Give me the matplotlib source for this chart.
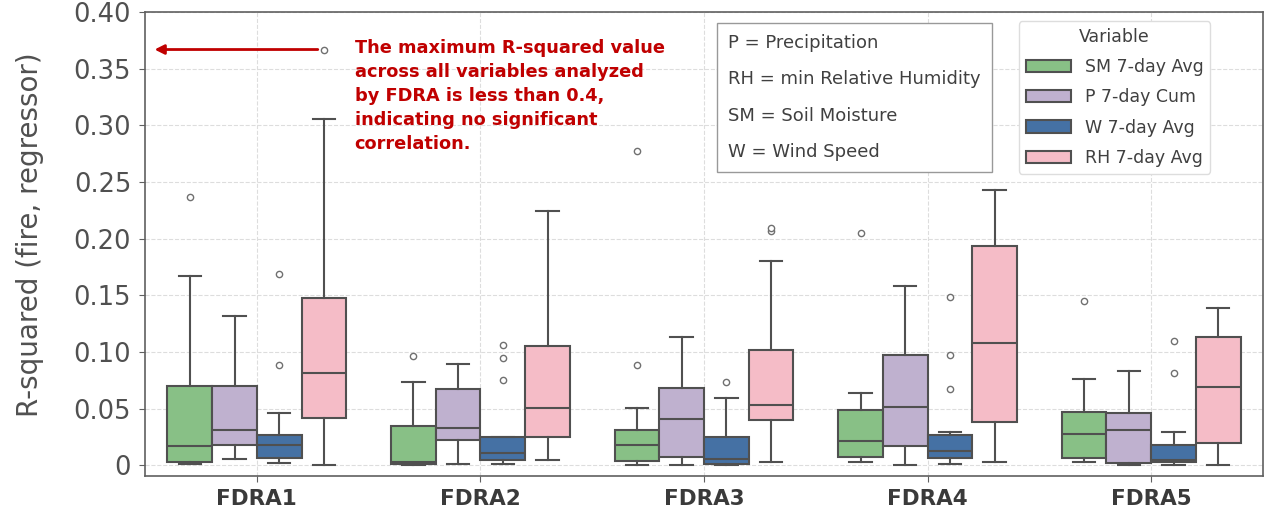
import matplotlib.pyplot as plt
from matplotlib.patches import Patch

# R-squared boxplots per FDRA and variable
fdras = ["FDRA1", "FDRA2", "FDRA3", "FDRA4", "FDRA5"]
variables = ["SM 7-day Avg", "P 7-day Cum", "W 7-day Avg", "RH 7-day Avg"]
colors = ["#88C086", "#BFB1CF", "#4571A4", "#F5BCC7"]

# whisker low, q1, median, q3, whisker high for each FDRA
sm_low = [0.0006, 0.0, 0.0003, 0.003, 0.003]
sm_q1 = [0.0026, 0.001, 0.0038, 0.007, 0.0062]
sm_med = [0.0167, 0.003, 0.0176, 0.0211, 0.0276]
sm_q3 = [0.0698, 0.0346, 0.0314, 0.049, 0.047]
sm_high = [0.167, 0.0733, 0.0505, 0.0637, 0.0757]
sm_out = [[0.2365], [0.096], [0.0883, 0.277], [0.2045], [0.145]]

p_low = [0.005, 0.0012, 0.0, 0.0, 0.0]
p_q1 = [0.0179, 0.0226, 0.0073, 0.0173, 0.0018]
p_med = [0.0314, 0.0329, 0.0405, 0.0517, 0.0308]
p_q3 = [0.0698, 0.0669, 0.0684, 0.0968, 0.0458]
p_high = [0.132, 0.0895, 0.113, 0.158, 0.0827]
p_out = [[], [], [], [], []]

w_low = [0.0015, 0.0006, 0.0, 0.0012, 0.0]
w_q1 = [0.0064, 0.0044, 0.001, 0.0064, 0.0024]
w_med = [0.0176, 0.0108, 0.005, 0.0129, 0.0044]
w_q3 = [0.027, 0.0249, 0.0246, 0.0264, 0.0179]
w_high = [0.046, 0.0249, 0.0593, 0.0293, 0.029]
w_out = [[0.169, 0.0886], [0.1062, 0.0948, 0.0754], [0.073],
         [0.148, 0.097, 0.0672], [0.110, 0.081]]

rh_low = [0.0, 0.0044, 0.0024, 0.0024, 0.0]
rh_q1 = [0.042, 0.0246, 0.0396, 0.0379, 0.0194]
rh_med = [0.0816, 0.0502, 0.0534, 0.1074, 0.0687]
rh_q3 = [0.1479, 0.1048, 0.1015, 0.193, 0.113]
rh_high = [0.3057, 0.2239, 0.180, 0.2424, 0.1388]
rh_out = [[0.3668], [], [0.2065, 0.209], [], []]

series = [
    (sm_low, sm_q1, sm_med, sm_q3, sm_high, sm_out),
    (p_low, p_q1, p_med, p_q3, p_high, p_out),
    (w_low, w_q1, w_med, w_q3, w_high, w_out),
    (rh_low, rh_q1, rh_med, rh_q3, rh_high, rh_out),
]

edge = "#505050"
fig = plt.figure(figsize=(12.67, 5.17), dpi=100)
ax = fig.add_axes([0.1145, 0.079, 0.8823, 0.898])

width = 0.2
offsets = [-0.3, -0.1, 0.1, 0.3]
for k, (lo, q1, med, q3, hi, out) in enumerate(series):
    stats = []
    for i in range(len(fdras)):
        stats.append(dict(whislo=lo[i], q1=q1[i], med=med[i], q3=q3[i],
                          whishi=hi[i], fliers=out[i]))
    pos = [i + offsets[k] for i in range(len(fdras))]
    ax.bxp(stats, positions=pos, widths=width, patch_artist=True,
           showfliers=True, manage_ticks=False,
           boxprops=dict(facecolor=colors[k], edgecolor=edge, linewidth=1.5),
           medianprops=dict(color=edge, linewidth=1.5),
           whiskerprops=dict(color=edge, linewidth=1.5),
           capprops=dict(color=edge, linewidth=1.5),
           flierprops=dict(marker="o", markersize=4.5, markerfacecolor="white",
                           markeredgecolor="#707070", markeredgewidth=1))

ax.set_xlim(-0.5, 4.5)
ax.set_ylim(-0.0097, 0.40)
ax.set_xticks(range(len(fdras)))
ax.set_xticklabels(fdras, fontsize=15.5, fontweight="bold")
yt = [0, 0.05, 0.10, 0.15, 0.20, 0.25, 0.30, 0.35, 0.40]
ax.set_yticks(yt)
ax.set_yticklabels(["0"] + ["%.2f" % v for v in yt[1:]], fontsize=18.5)
ax.set_ylabel("R-squared (fire, regressor)", fontsize=20, color="#505050")
ax.yaxis.set_label_coords(-0.09, 0.52)
ax.grid(True, linestyle="--", color="#dddddd", linewidth=0.8)
ax.set_axisbelow(True)
for s in ax.spines.values():
    s.set_color("#606060")
    s.set_linewidth(1.2)
ax.tick_params(axis="y", colors="#606060", labelcolor="#505050", length=4, pad=6)
ax.tick_params(axis="x", colors="#606060", labelcolor="#3a3a3a", length=4, pad=5)

# red arrow and note
ax.annotate("", xy=(-0.47, 0.3668), xytext=(0.285, 0.3668),
            arrowprops=dict(arrowstyle="-|>", color="#C00000", lw=2,
                            mutation_scale=14))
ax.text(0.4375, 0.376,
        "The maximum R-squared value\nacross all variables analyzed\n"
        "by FDRA is less than 0.4,\nindicating no significant\ncorrelation.",
        color="#C00000", fontsize=12.8, fontweight="bold", va="top", ha="left",
        linespacing=1.43)

# abbreviation box
ax.text(0.5215, 0.952,
        "P = Precipitation\nRH = min Relative Humidity\nSM = Soil Moisture\nW = Wind Speed",
        transform=ax.transAxes, fontsize=13, color="#404040", va="top", ha="left",
        linespacing=2.3,
        bbox=dict(boxstyle="square,pad=0.6", facecolor="white", edgecolor="#999999"))

handles = [Patch(facecolor=c, edgecolor=edge, linewidth=1.5) for c in colors]
leg = ax.legend(handles, variables, title="Variable", loc="upper right",
                bbox_to_anchor=(0.953, 0.98), borderaxespad=0, fontsize=12.5,
                title_fontsize=12.5, labelspacing=0.7, handlelength=2.6,
                framealpha=1, edgecolor="#dddddd")
for t in leg.get_texts():
    t.set_color("#404040")
leg.get_title().set_color("#404040")

plt.savefig("out.png", dpi=100)
